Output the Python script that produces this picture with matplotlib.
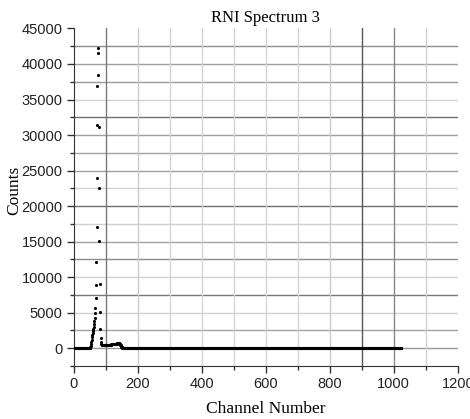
import numpy as np
import matplotlib.pyplot as plt
from matplotlib.ticker import MultipleLocator

plt.rcParams['font.family'] = ['Liberation Sans', 'DejaVu Sans']

# spectrum data: 1024 channels, zero outside the peak region
n_channels = 1024

ramp_channels = list(range(51, 68))
ramp_counts = [50, 150, 350, 600, 900, 1200, 1500, 1800, 2100, 2400,
               2700, 3000, 3400, 3800, 4300, 4900, 5600]

peak_channels = list(range(68, 85))
peak_counts = [7000, 8830, 12150, 17100, 24000, 31370, 36900, 41500, 42300,
               38500, 31170, 22600, 15100, 9010, 5030, 2670, 1370]

tail_channels = list(range(85, 157))
tail_counts = [820, 540, 450, 410, 400, 400, 405, 410, 410, 415,
               420, 420, 425, 430, 430, 435, 440, 440, 445, 450,
               450, 455, 460, 460, 465, 470, 470, 475, 480, 480,
               490, 495, 500, 505, 510, 515, 520, 530, 535, 540,
               550, 555, 565, 575, 585, 595, 605, 615, 625, 635,
               645, 650, 655, 660, 660, 655, 645, 620, 580, 520,
               450, 380, 310, 240, 180, 130, 90, 60, 35, 20,
               10, 0]

channels = np.arange(n_channels)
counts = np.zeros(n_channels)
counts[ramp_channels] = ramp_counts
counts[peak_channels] = peak_counts
counts[tail_channels] = tail_counts

# gridline shades as they appear in the scan
hgrid_levels = list(range(0, 45000, 2500))
hgrid_colors = ['#999999', '#a0a0a0', '#cfcfcf', '#777777', '#cfcfcf', '#8c8c8c',
                '#a0a0a0', '#d0d0d0', '#707070', '#d0d0d0', '#a0a0a0', '#a0a0a0',
                '#a0a0a0', '#707070', '#d0d0d0', '#999999', '#a0a0a0', '#8c8c8c']
vgrid_levels = list(range(100, 1200, 100))
vgrid_colors = ['#777777', '#cccccc', '#d5d5d5', '#d5d5d5', '#d5d5d5', '#d5d5d5',
                '#d5d5d5', '#cccccc', '#555555', '#888888', '#d0d0d0']

fig = plt.figure(figsize=(4.7, 4.19), dpi=100)
ax = fig.add_axes([0.157, 0.127, 0.817, 0.805])

for y, c in zip(hgrid_levels, hgrid_colors):
    ax.axhline(y, color=c, lw=1.0, zorder=0)
for x, c in zip(vgrid_levels, vgrid_colors):
    ax.axvline(x, color=c, lw=1.0, zorder=0)

ax.scatter(channels, counts, s=5, color='black', linewidths=0, zorder=3)

ax.set_xlim(0, 1200)
ax.set_ylim(-2500, 45000)
ax.xaxis.set_major_locator(MultipleLocator(200))
ax.xaxis.set_minor_locator(MultipleLocator(100))
ax.set_yticks(range(0, 45001, 5000))
ax.yaxis.set_minor_locator(MultipleLocator(2500))
ax.tick_params(which='major', direction='out', length=5, width=1, color='#333333',
               labelsize=10.5, labelcolor='#222222', pad=3)
ax.tick_params(which='minor', direction='out', length=3, width=1, color='#333333')

ax.spines['top'].set_visible(False)
ax.spines['right'].set_visible(False)
ax.spines['left'].set_color('#333333')
ax.spines['bottom'].set_color('#333333')

ax.set_title('RNI Spectrum 3', family='Liberation Serif', fontsize=12, pad=5)
ax.set_xlabel('Channel Number', family='Liberation Serif', fontsize=12.5, labelpad=7)
ax.set_ylabel('Counts', family='Liberation Serif', fontsize=12.5)
ax.yaxis.set_label_coords(-0.135, 0.52)

plt.savefig('out.png', dpi=100)
